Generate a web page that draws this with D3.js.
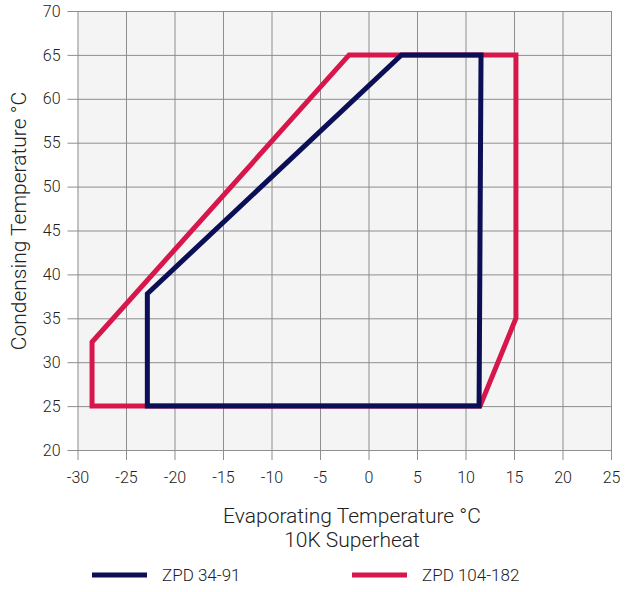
<!DOCTYPE html>
<html><head><meta charset="utf-8">
<script src="https://cdn.jsdelivr.net/npm/d3@7"></script>
<style>body{margin:0;background:#fff}</style>
</head><body>
<svg id="c" width="627" height="592"></svg>
<script>
const xTicks = [-30,-25,-20,-15,-10,-5,0,5,10,15,20,25];
const yTicks = [20,25,30,35,40,45,50,55,60,65,70];
const seriesNames = ["ZPD 34-91","ZPD 104-182"];
const redX = [-28.5,-28.5,-2,15.2,15.2,11.5,-28.5];
const redY = [25,32.3,65,65,35,25,25];
const blueX = [-22.8,-22.8,3.4,11.6,11.4,-22.8];
const blueY = [25,37.8,65,65,25,25];
const colors = {"ZPD 34-91":"#0b0f55","ZPD 104-182":"#d7174b"};

const svg = d3.select("#c");
const font = "Roboto, 'Open Sans', sans-serif";
const W = 300;
const x = d3.scaleLinear().domain([-30,25]).range([77.5,611]);
const y = d3.scaleLinear().domain([20,70]).range([450,11]);

svg.append("rect").attr("x",x(-30)).attr("y",y(70)).attr("width",x(25)-x(-30)).attr("height",y(20)-y(70)).attr("fill","#f4f4f4");

const gx = svg.append("g").attr("transform",`translate(0,${y(20)})`)
  .call(d3.axisBottom(x).tickValues(xTicks).tickFormat(d=>String(d)));
gx.select(".domain").remove();
gx.selectAll(".tick line").attr("stroke","#8e8e8e").attr("y2",10).attr("y1",-(y(20)-y(70)));
gx.selectAll("text").attr("font-family",font).attr("font-weight",W).attr("font-size",16).attr("fill","#222").attr("dy","0.35em").attr("y",27);

const gy = svg.append("g").attr("transform",`translate(${x(-30)},0)`)
  .call(d3.axisLeft(y).tickValues(yTicks).tickFormat(d=>String(d)));
gy.select(".domain").remove();
gy.selectAll(".tick line").attr("stroke","#8e8e8e").attr("x1",-10).attr("x2",x(25)-x(-30));
gy.selectAll("text").attr("font-family",font).attr("font-weight",W).attr("font-size",16).attr("fill","#222").attr("x",-17);

const line = d3.line().x(d=>x(d[0])).y(d=>y(d[1]));
const redPts = redX.map((v,i)=>[v,redY[i]]);
const bluePts = blueX.map((v,i)=>[v,blueY[i]]);
svg.append("path").attr("d",line(redPts)+"Z").attr("fill","none").attr("stroke",colors["ZPD 104-182"]).attr("stroke-width",5).attr("stroke-linejoin","miter");
svg.append("path").attr("d",line(bluePts)+"Z").attr("fill","none").attr("stroke",colors["ZPD 34-91"]).attr("stroke-width",5).attr("stroke-linejoin","miter");

svg.append("text").attr("x",352).attr("y",523).attr("text-anchor","middle").attr("font-family",font).attr("font-weight",W).attr("font-size",21).attr("fill","#222").text("Evaporating Temperature °C");
svg.append("text").attr("x",352).attr("y",547).attr("text-anchor","middle").attr("font-family",font).attr("font-weight",W).attr("font-size",21).attr("fill","#222").text("10K Superheat");
svg.append("text").attr("transform","translate(26,221) rotate(-90)").attr("text-anchor","middle").attr("font-family",font).attr("font-weight",W).attr("font-size",21).attr("fill","#222").text("Condensing Temperature °C");

const legX = [92,352];
seriesNames.forEach((n,i)=>{
  svg.append("line").attr("x1",legX[i]).attr("x2",legX[i]+55).attr("y1",575).attr("y2",575).attr("stroke",colors[n]).attr("stroke-width",5);
  svg.append("text").attr("x",legX[i]+70).attr("y",575).attr("dy","0.35em").attr("font-family",font).attr("font-weight",W).attr("font-size",17).attr("fill","#222").text(n);
});
</script>
</body></html>
